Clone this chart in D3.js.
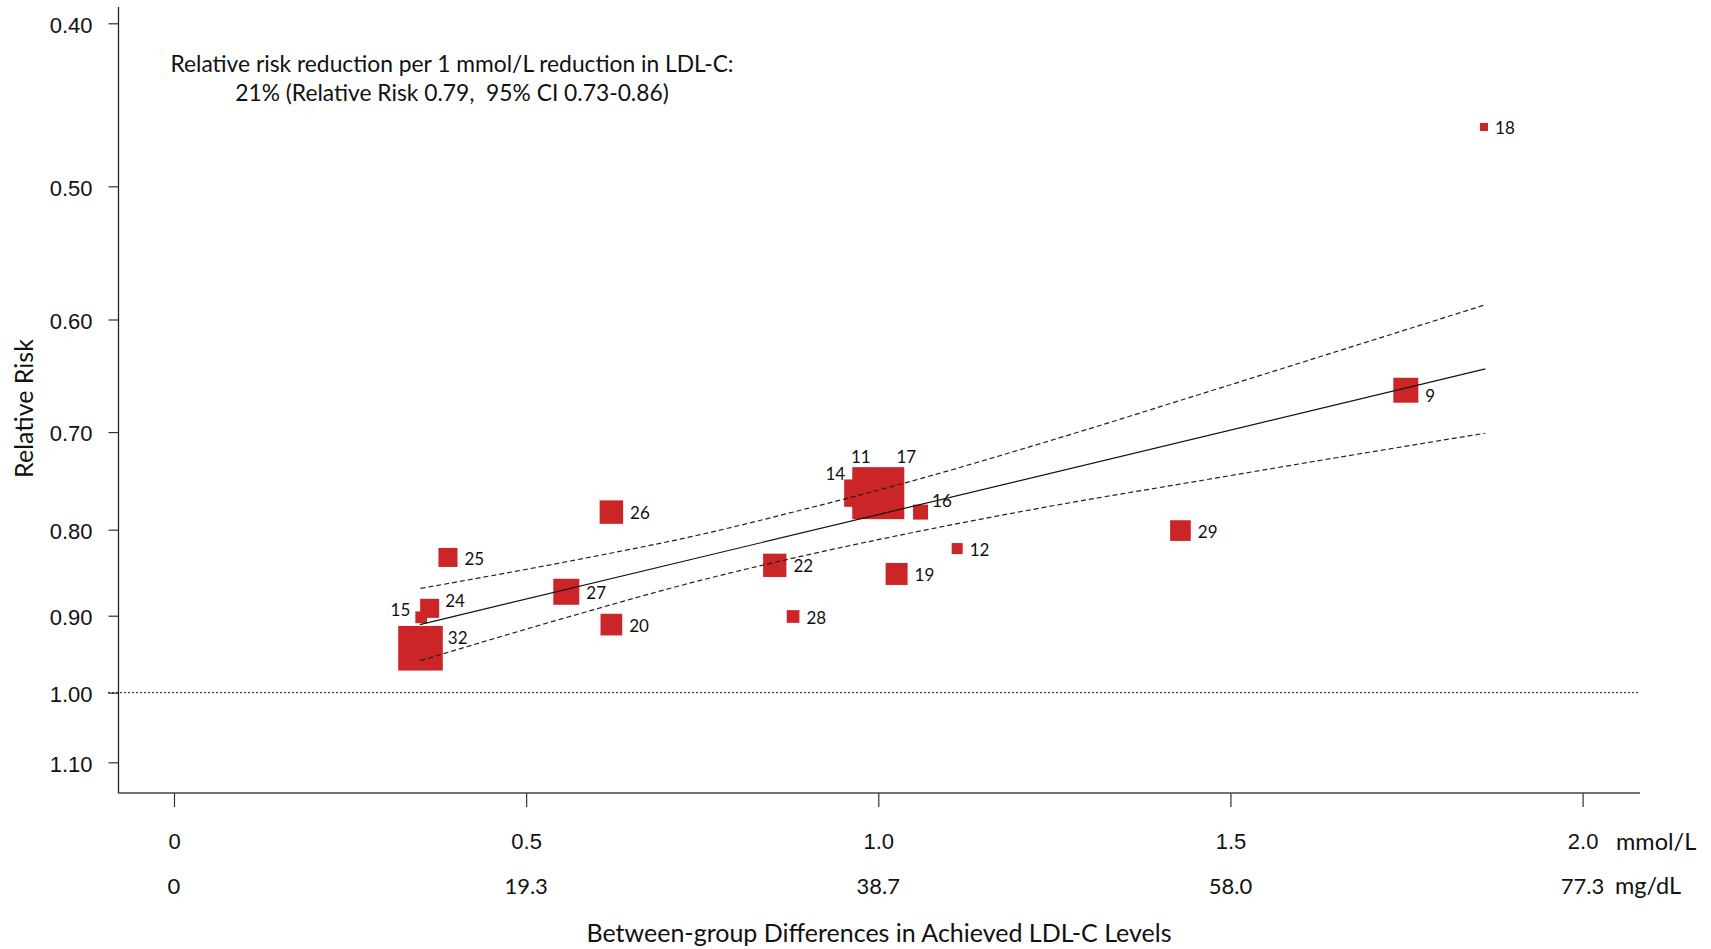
<!DOCTYPE html>
<html>
<head>
<meta charset="utf-8">
<script src="https://cdn.jsdelivr.net/npm/d3@7"></script>
<style>
  html, body { margin: 0; padding: 0; background: #ffffff; }
  svg { display: block; font-family: Lato, "Open Sans", "DejaVu Sans", sans-serif; }
</style>
</head>
<body>
<svg id="chart" width="1711" height="949"></svg>
<script>
// Trials (reference numbers), drawn in this order so overlapping squares stack correctly
const trialIds = [32, 15, 24, 25, 27, 20, 26, 22, 28, 14, 11, 17, 16, 19, 12, 29, 9, 18];
// Between-group difference in achieved LDL-C (mmol/L)
const ldlDiff  = [0.350, 0.351, 0.363, 0.389, 0.557, 0.621, 0.621, 0.853, 0.879, 0.971, 0.995, 1.000, 1.060, 1.026, 1.112, 1.429, 1.749, 1.860];
// Relative risk observed in each trial
const relRisk  = [0.941, 0.902, 0.891, 0.831, 0.871, 0.911, 0.781, 0.840, 0.901, 0.761, 0.761, 0.761, 0.781, 0.850, 0.821, 0.801, 0.661, 0.461];
// Statistical weight of each trial (largest = 100); square area is proportional to it
const weight   = [73.6, 5.1, 13.4, 13.4, 25.0, 17.4, 20.4, 20.1, 6.0, 27.8, 71.6, 100, 8.3, 17.9, 4.5, 15.8, 23.1, 2.4];

// Meta-regression line (end points) and its 95% confidence band
const fitLdl = [0.349, 1.862];
const fitRR  = [0.911, 0.642];
const bandLdl   = [0.35, 0.55, 0.75, 0.90, 1.05, 1.25, 1.45, 1.65, 1.862];
const bandUpper = [0.867, 0.837, 0.805, 0.777, 0.748, 0.707, 0.666, 0.627, 0.588];
const bandLower = [0.957, 0.904, 0.857, 0.828, 0.803, 0.774, 0.749, 0.725, 0.701];

// Axis ticks
const rrTicks    = [0.40, 0.50, 0.60, 0.70, 0.80, 0.90, 1.00, 1.10];
const mmolTicks  = [0, 0.5, 1.0, 1.5, 2.0];
const mgdlLabels = ["0", "19.3", "38.7", "58.0", "77.3"];

const annotation = [
  "Relative risk reduction per 1 mmol/L reduction in LDL-C:",
  "21% (Relative Risk 0.79,  95% CI 0.73-0.86)"
];

const svg = d3.select("#chart");
const RED = "#cc2528";
const INK = "#111111";
const TICK_FONT = 22, UNIT_FONT = 23.5, TITLE_FONT = 25, NOTE_FONT = 22.8, ID_FONT = 17;

const x = d3.scaleLinear().domain([0, 2]).range([174, 1582.6]);
const y = d3.scaleLog().domain([0.40, 1.10]).range([23.3, 762.3]);
const side = d3.scaleSqrt().domain([0, 100]).range([0, 52]);

const axisX = 118.5, axisY = 793;

// ---- Y axis (log scale, smaller risk at the top)
const yAxis = svg.append("g")
  .attr("transform", `translate(${axisX},0)`)
  .call(d3.axisLeft(y).tickValues(rrTicks).tickFormat(d3.format(".2f")).tickSize(10).tickPadding(16));
yAxis.select(".domain").remove();
yAxis.selectAll(".tick line").attr("stroke", "#333").attr("stroke-width", 1.2);
yAxis.selectAll(".tick text")
  .attr("font-size", TICK_FONT).attr("fill", INK).attr("font-family", null).attr("dy", "0.4em");
svg.append("line")
  .attr("x1", axisX).attr("x2", axisX).attr("y1", 7).attr("y2", axisY)
  .attr("stroke", "#222").attr("stroke-width", 1.3);

// ---- X axis (mmol/L with mg/dL equivalents)
const xAxis = svg.append("g")
  .attr("transform", `translate(0,${axisY})`)
  .call(d3.axisBottom(x).tickValues(mmolTicks)
    .tickFormat(d => d === 0 ? "0" : d.toFixed(1)).tickSize(14).tickPadding(26));
xAxis.select(".domain").remove();
xAxis.selectAll(".tick line").attr("stroke", "#333").attr("stroke-width", 1.2);
xAxis.selectAll(".tick text").attr("font-size", TICK_FONT).attr("fill", INK).attr("font-family", null);
svg.append("line")
  .attr("x1", axisX - 0.6).attr("x2", 1640).attr("y1", axisY).attr("y2", axisY)
  .attr("stroke", "#444").attr("stroke-width", 1.4);

svg.append("g").selectAll("text")
  .data(mmolTicks)
  .join("text")
  .attr("x", d => x(d))
  .attr("y", 893.5)
  .attr("text-anchor", "middle")
  .attr("font-size", TICK_FONT).attr("fill", INK)
  .text((d, i) => mgdlLabels[i]);

svg.append("text").attr("x", 1616).attr("y", 850)
  .attr("font-size", UNIT_FONT).attr("fill", INK).text("mmol/L");
svg.append("text").attr("x", 1615).attr("y", 893.5)
  .attr("font-size", UNIT_FONT).attr("fill", INK).text("mg/dL");

// ---- Axis titles
svg.append("text")
  .attr("transform", "translate(33,408.5) rotate(-90)")
  .attr("text-anchor", "middle")
  .attr("font-size", TITLE_FONT).attr("fill", INK)
  .text("Relative Risk");
svg.append("text")
  .attr("x", 879).attr("y", 941.5)
  .attr("text-anchor", "middle")
  .attr("font-size", TITLE_FONT).attr("fill", INK)
  .text("Between-group Differences in Achieved LDL-C Levels");

// ---- Summary annotation
svg.append("g").selectAll("text")
  .data(annotation)
  .join("text")
  .attr("x", 452)
  .attr("y", (d, i) => i === 0 ? 71.7 : 100.5)
  .attr("text-anchor", "middle")
  .attr("font-size", NOTE_FONT).attr("fill", INK)
  .attr("xml:space", "preserve")
  .style("white-space", "pre")
  .text(d => d);

// ---- No-effect reference line at RR = 1
svg.append("line")
  .attr("x1", 108).attr("x2", 1638)
  .attr("y1", y(1)).attr("y2", y(1))
  .attr("stroke", "#111").attr("stroke-width", 1).attr("stroke-dasharray", "2,2");

// ---- Trial squares
const trials = trialIds.map((id, i) => ({ id, ldl: ldlDiff[i], rr: relRisk[i], w: weight[i] }));

svg.append("g").selectAll("rect")
  .data(trials)
  .join("rect")
  .attr("x", d => x(d.ldl) - side(d.w) / 2)
  .attr("y", d => y(d.rr) - side(d.w) / 2)
  .attr("width", d => side(d.w))
  .attr("height", d => side(d.w))
  .attr("fill", RED);

// Label placement: most labels sit to the right of their square
function labelPos(d) {
  const s = side(d.w), cx = x(d.ldl), cy = y(d.rr);
  switch (d.id) {
    case 15: return { x: cx - s / 2 - 5, y: cy - 7, anchor: "end" };
    case 14: return { x: cx - s / 2 + 1, y: cy - s / 2 - 6, anchor: "end" };
    case 11: return { x: cx - 14, y: cy - 36, anchor: "middle" };
    case 17: return { x: cx + 28, y: cy - 36, anchor: "middle" };
    case 24: return { x: cx + s / 2 + 6, y: cy - 7, anchor: "start" };
    case 32: return { x: cx + s / 2 + 5, y: cy - 10.5, anchor: "start" };
    case 16: return { x: cx + s / 2 + 4, y: cy - 11, anchor: "start" };
    case 9:  return { x: cx + s / 2 + 7, y: cy + 6, anchor: "start" };
    default: return { x: cx + s / 2 + 7, y: cy + 1, anchor: "start" };
  }
}

svg.append("g").selectAll("text")
  .data(trials)
  .join("text")
  .each(function (d) {
    const p = labelPos(d);
    d3.select(this).attr("x", p.x).attr("y", p.y).attr("text-anchor", p.anchor);
  })
  .attr("dy", "0.36em")
  .attr("font-size", ID_FONT).attr("fill", INK)
  .text(d => d.id);

// ---- Regression line and confidence band
const line = d3.line().x(d => x(d.ldl)).y(d => y(d.rr));
const fitPts = fitLdl.map((v, i) => ({ ldl: v, rr: fitRR[i] }));
const upperPts = bandLdl.map((v, i) => ({ ldl: v, rr: bandUpper[i] }));
const lowerPts = bandLdl.map((v, i) => ({ ldl: v, rr: bandLower[i] }));

svg.append("path").datum(fitPts)
  .attr("d", line).attr("fill", "none")
  .attr("stroke", INK).attr("stroke-width", 1.2);

const bandLine = d3.line().x(d => x(d.ldl)).y(d => y(d.rr)).curve(d3.curveMonotoneX);
[upperPts, lowerPts].forEach(pts => {
  svg.append("path").datum(pts)
    .attr("d", bandLine).attr("fill", "none")
    .attr("stroke", "#222").attr("stroke-width", 1.2)
    .attr("stroke-dasharray", "5,3");
});
</script>
</body>
</html>
